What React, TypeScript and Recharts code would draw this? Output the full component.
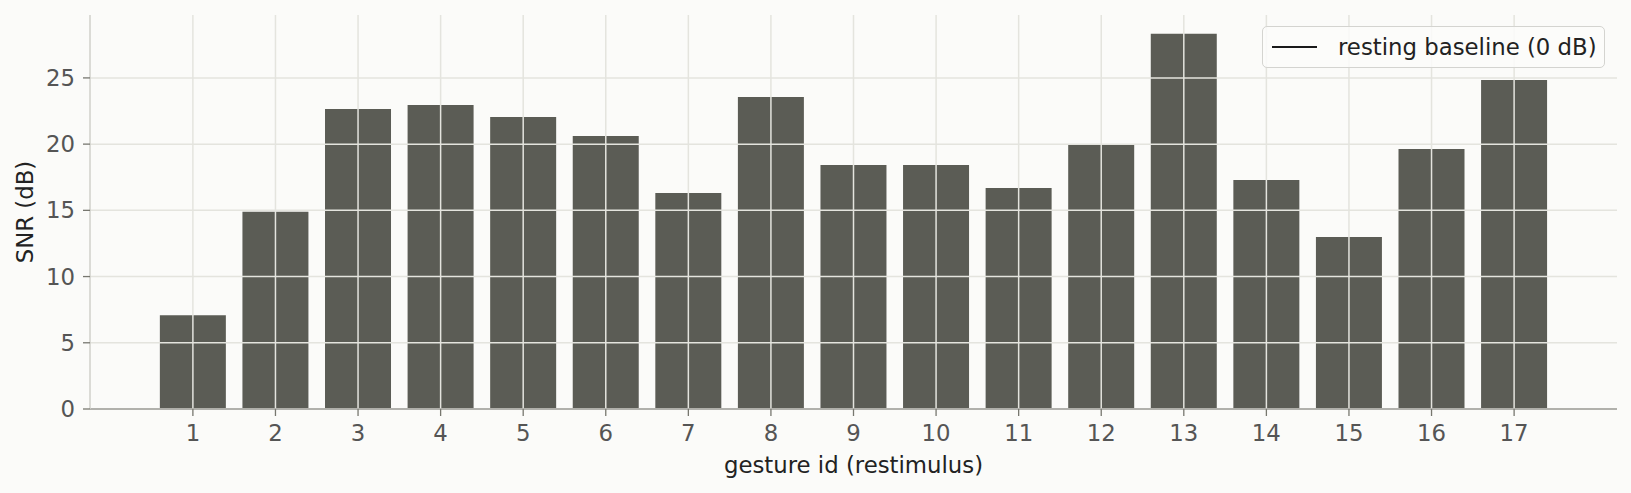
import { BarChart, Bar, XAxis, YAxis, CartesianGrid, ReferenceLine, Label } from "recharts";

const gestures = ["1", "2", "3", "4", "5", "6", "7", "8", "9", "10", "11", "12", "13", "14", "15", "16", "17"];
const snrDb = [7.08, 14.89, 22.65, 22.96, 22.05, 20.62, 16.31, 23.56, 18.42, 18.42, 16.68, 19.96, 28.33, 17.29, 12.98, 19.63, 24.85];
const yTicks = [0, 5, 10, 15, 20, 25];

const data = gestures.map((g, i) => ({ gesture: g, snr: snrDb[i] }));

const FONT = "'DejaVu Sans', sans-serif";
const BG = "#fbfbf9";
const FS = 22.8;

function YLabel({ viewBox }: any) {
  const cx = viewBox.x + 25;
  const cy = viewBox.y + viewBox.height / 2;
  return (
    <text x={cx} y={cy} transform={`rotate(-90 ${cx} ${cy})`} textAnchor="middle"
      dominantBaseline="central" fontSize={FS} fill="#222" fontFamily={FONT}>
      SNR (dB)
    </text>
  );
}

function XLabel({ viewBox }: any) {
  return (
    <text x={viewBox.x + viewBox.width / 2} y={viewBox.y + 64} textAnchor="middle"
      fontSize={FS} fill="#222" fontFamily={FONT}>
      gesture id (restimulus)
    </text>
  );
}

export default function App() {
  return (
    <div style={{ position: "absolute", left: 0, top: 0, width: 1631, height: 493, background: BG, fontFamily: FONT }}>
      <BarChart width={1631} height={493} data={data} barCategoryGap="10%"
        margin={{ top: 15, right: 14, bottom: 0, left: 0 }}>
        <XAxis dataKey="gesture" height={84} padding={{ left: 61.6, right: 61.6 }}
          axisLine={{ stroke: "#aeaea8", strokeWidth: 1.5 }}
          tickLine={{ stroke: "#77776f", strokeWidth: 1.3 }} tickSize={7} tickMargin={9}
          tick={{ fill: "#555", fontSize: FS, fontFamily: FONT }} interval={0}>
          <Label content={<XLabel />} />
        </XAxis>
        <YAxis width={90} domain={[0, 29.75]} ticks={yTicks} allowDataOverflow
          axisLine={{ stroke: "#d0d0ca", strokeWidth: 1.5 }}
          tickLine={{ stroke: "#77776f", strokeWidth: 1.3 }} tickSize={7} tickMargin={8}
          tick={{ fill: "#555", fontSize: FS, fontFamily: FONT }}>
          <Label content={<YLabel />} />
        </YAxis>
        <Bar dataKey="snr" fill="#5b5c55" isAnimationActive={false} />
        <CartesianGrid stroke="#e4e4de" strokeWidth={1.5} zIndex={350}
          horizontalValues={yTicks} verticalValues={gestures} />
        <ReferenceLine y={0} stroke="#aeaea8" strokeWidth={1.5} />
      </BarChart>
      <div style={{
        position: "absolute", left: 1262, top: 26, width: 343, height: 42, boxSizing: "border-box",
        border: "1.5px solid #d4d4d0", borderRadius: 5, background: "rgba(252,252,250,0.85)",
      }}>
        <div style={{ position: "absolute", left: 9, top: 19, width: 45, height: 0, borderTop: "2px solid #1a1a1a" }} />
        <div style={{ position: "absolute", left: 75, top: 0, height: 40, lineHeight: "40px", fontSize: FS, color: "#222", whiteSpace: "nowrap" }}>
          resting baseline (0 dB)
        </div>
      </div>
    </div>
  );
}
